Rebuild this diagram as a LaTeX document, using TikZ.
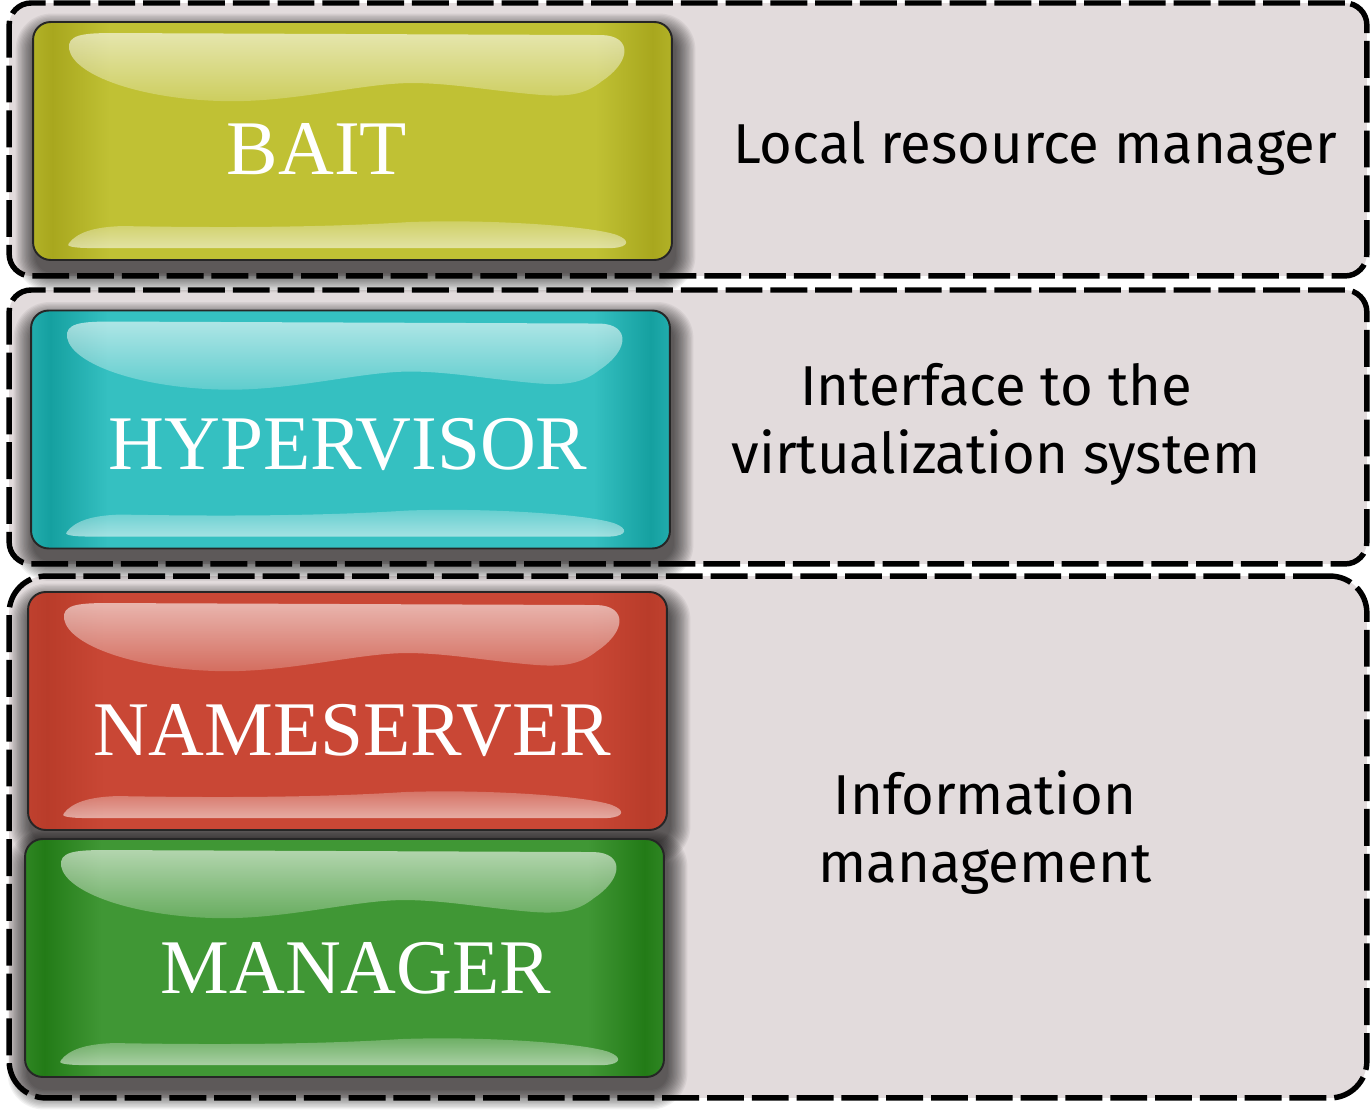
\documentclass[tikz,border=0pt]{standalone}
\usepackage{fontspec}
\setmainfont{Liberation Serif}
\newfontfamily\notefont{Fira Sans}
\usetikzlibrary{positioning,fadings}

\definecolor{panelfill}{HTML}{E2DBDC}
\definecolor{baitmid}{HTML}{C0C134}
\definecolor{baitedge}{HTML}{A8A71E}
\definecolor{hypermid}{HTML}{35C0C1}
\definecolor{hyperedge}{HTML}{15A0A0}
\definecolor{namemid}{HTML}{C94735}
\definecolor{nameedge}{HTML}{B93C2A}
\definecolor{managermid}{HTML}{409735}
\definecolor{manageredge}{HTML}{237B17}

\colorlet{btnedge}{black}
\colorlet{btnmid}{gray}
\pgfdeclarehorizontalshading[btnedge,btnmid]{btnshade}{100bp}{%
  color(0bp)=(btnedge); color(25bp)=(btnedge!60!btnmid); color(26.5bp)=(btnedge);
  color(31bp)=(btnmid); color(69bp)=(btnmid); color(73.5bp)=(btnedge);
  color(75bp)=(btnedge!60!btnmid); color(100bp)=(btnedge)}

\tikzfading[name=glosstop, top color=transparent!40, bottom color=transparent!80]
\tikzfading[name=glossbot, top color=transparent!78, bottom color=transparent!45]

\pgfdeclarelayer{panel}
\pgfdeclarelayer{shadow}
\pgfsetlayers{panel,shadow,main}

\begin{document}
\begin{tikzpicture}[x=0.02cm, y=-0.02cm,
        panel/.style = {
            draw=black,
            fill=panelfill,
            line width=3.1pt,
            dash pattern=on 21pt off 4.5pt,
            minimum width=27.16cm,
            inner sep=0pt
        },
        btn/.style 2 args = {
            /utils/exec={\colorlet{btnedge}{#1}\colorlet{btnmid}{#2}},
            shade, shading=btnshade,
            draw=black!85, line width=1.1pt,
            rounded corners=10pt,
            minimum width=12.78cm, minimum height=4.76cm,
            inner sep=0pt
        },
        tag/.style = {text=white, font=\fontsize{44}{50}\selectfont, anchor=base},
        note/.style = {font=\notefont\fontsize{32}{38.7}\selectfont, align=center}]

    \begin{pgfonlayer}{panel}
        \fill[white] (0,0) rectangle (1370,1114);
        \node[panel, minimum height=5.46cm, rounded corners=12.5pt] (top) at (688,139.5) {};
        \node[panel, minimum height=5.48cm, rounded corners=12.5pt] (middle) at (688,427) {};
        \node[panel, minimum height=10.44cm, rounded corners=21pt] (bottom) at (688,837) {};
    \end{pgfonlayer}
    \useasboundingbox (0,0) rectangle (1370,1114);

    \node[btn={baitedge}{baitmid}] (bait) at (352.5,141) {};
    \node[btn={hyperedge}{hypermid}] (hyper) at (350.5,429.5) {};
    \node[btn={nameedge}{namemid}] (nameserver) at (347.5,711) {};
    \node[btn={manageredge}{managermid}] (manager) at (344.5,958) {};

    % soft drop shadows under the buttons
    \begin{pgfonlayer}{shadow}
        \foreach \b in {bait,hyper,nameserver,manager}
            \foreach \k in {0,...,15}
                \fill[black, opacity=0.052, rounded corners={10pt+\k*0.7pt}]
                    ([shift={(3-1.3*\k,12-1.3*\k)}]\b.north west) rectangle
                    ([shift={(3+1.3*\k,12+1.3*\k)}]\b.south east);
    \end{pgfonlayer}

    % glossy highlights
    \foreach \b in {bait,hyper,nameserver,manager} {
        \begin{scope}[shift={(\b.north west)}]
            \fill[white, path fading=glosstop]
                (37,28) .. controls (35,14) and (50,12) .. (80,12)
                -- (570,14) .. controls (600,15) and (600,40) .. (570,60)
                .. controls (555,72) and (540,76) .. (510,74)
                .. controls (460,70) and (420,62) .. (380,62)
                .. controls (330,62) and (260,82) .. (190,80)
                .. controls (110,78) and (42,55) .. (37,28) -- cycle;
            \fill[white, path fading=glossbot]
                (37,222) .. controls (45,212) and (60,206) .. (90,205)
                .. controls (200,207) and (300,206) .. (377,201)
                .. controls (460,198) and (560,205) .. (585,214)
                .. controls (598,219) and (598,226) .. (580,227)
                -- (60,227) .. controls (40,227) and (33,225) .. (37,222) -- cycle;
        \end{scope}
    }

    \node[tag] (baittext) at (317,175) {BAIT};
    \node[tag] (hypertext) at (348,470) {HYPERVISOR};
    \node[tag] (nametext) at (352,756) {NAMESERVER};
    \node[tag] (managertext) at (356,993) {MANAGER};

    \node[note, anchor=base] (baitnote) at (1035,164) {Local resource manager};
    \node[note] (hypernote) at (996,424) {Interface to the\\virtualization system};
    \node[note] (managernote) at (985,833) {Information\\management};
\end{tikzpicture}
\end{document}
